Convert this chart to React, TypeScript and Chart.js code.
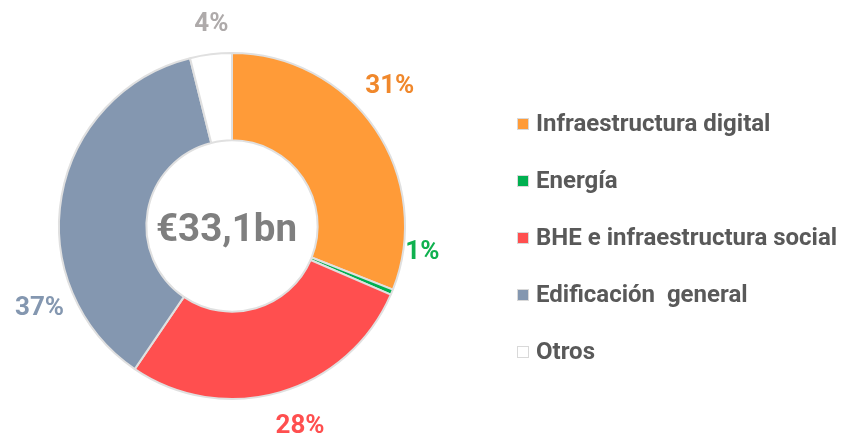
import React, { useEffect, useRef } from "react";
import { Chart, registerables } from "chart.js";

Chart.register(...registerables);

const categories = [
  "Infraestructura digital",
  "Energía",
  "BHE e infraestructura social",
  "Edificación  general",
  "Otros",
];
const shares = [31, 0.5, 28, 36.6, 3.9];
const pctLabels = ["31%", "1%", "28%", "37%", "4%"];
const centerLabel = "€33,1bn";

const sliceColors = ["#FF9B38", "#00B050", "#FF4F4F", "#8497B0", "#FFFFFF"];
const labelColors = ["#F0882C", "#0FB14F", "#FF4F4F", "#8497B0", "#AEAAAA"];
// placement of each outside label: angular nudge (deg) from slice midpoint, and distance from centre
const labelAngleNudge = [-7.4, -15, -2.6, -33, 1.2];
const labelDistance = [211, 192, 211, 209, 204];

const FONT = "Roboto, 'Noto Sans', sans-serif";

const overlayPlugin = {
  id: "overlay",
  afterDatasetsDraw(chart: any) {
    const ctx = chart.ctx;
    const meta = chart.getDatasetMeta(0);
    ctx.save();
    // outside percentage labels
    meta.data.forEach((arc: any, i: number) => {
      const { x, y, startAngle, endAngle } = arc.getProps(["x", "y", "startAngle", "endAngle"], true);
      const mid = (startAngle + endAngle) / 2 + (labelAngleNudge[i] * Math.PI) / 180;
      const lx = x + Math.cos(mid) * labelDistance[i];
      const ly = y + Math.sin(mid) * labelDistance[i];
      ctx.font = `bold 26px ${FONT}`;
      ctx.fillStyle = labelColors[i];
      ctx.textAlign = "center";
      ctx.textBaseline = "middle";
      ctx.fillText(pctLabels[i], lx, ly + 1);
    });
    // center text
    const c = meta.data[0];
    ctx.font = `bold 38.5px ${FONT}`;
    ctx.fillStyle = "#7F7F7F";
    ctx.textAlign = "center";
    ctx.textBaseline = "middle";
    ctx.fillText(centerLabel, c.x - 5.5, c.y + 5);

    // legend
    const lx0 = 517.5;
    const ly0 = 124;
    const step = 57;
    categories.forEach((name, i) => {
      const cy = ly0 + i * step;
      ctx.fillStyle = sliceColors[i];
      ctx.fillRect(lx0, cy - 5.5, 11, 11);
      ctx.strokeStyle = "#D9D9D9";
      ctx.lineWidth = 1;
      ctx.strokeRect(lx0, cy - 5.5, 11, 11);
      ctx.font = `bold 24px ${FONT}`;
      ctx.fillStyle = "#595959";
      ctx.textAlign = "left";
      ctx.textBaseline = "middle";
      ctx.fillText(name, 536, cy + 1);
    });
    ctx.restore();
  },
};

export default function App() {
  const ref = useRef<HTMLCanvasElement>(null);
  useEffect(() => {
    if (!ref.current) return;
    const chart = new Chart(ref.current, {
      type: "doughnut",
      data: {
        labels: categories,
        datasets: [
          {
            data: shares,
            backgroundColor: sliceColors,
            borderColor: "#E0E0E0",
            borderWidth: 2,
          },
        ],
      },
      options: {
        responsive: false,
        animation: false,
        cutout: "49.5%",
        layout: { padding: { left: 58, right: 438, top: 52, bottom: 36 } },
        plugins: { legend: { display: false }, tooltip: { enabled: false } },
      },
      plugins: [overlayPlugin],
    });
    return () => chart.destroy();
  }, []);
  return (
    <div style={{ position: "fixed", left: 0, top: 0, width: 844, height: 436, background: "#fff" }}>
      <canvas ref={ref} width={844} height={436} style={{ display: "block" }} />
    </div>
  );
}
